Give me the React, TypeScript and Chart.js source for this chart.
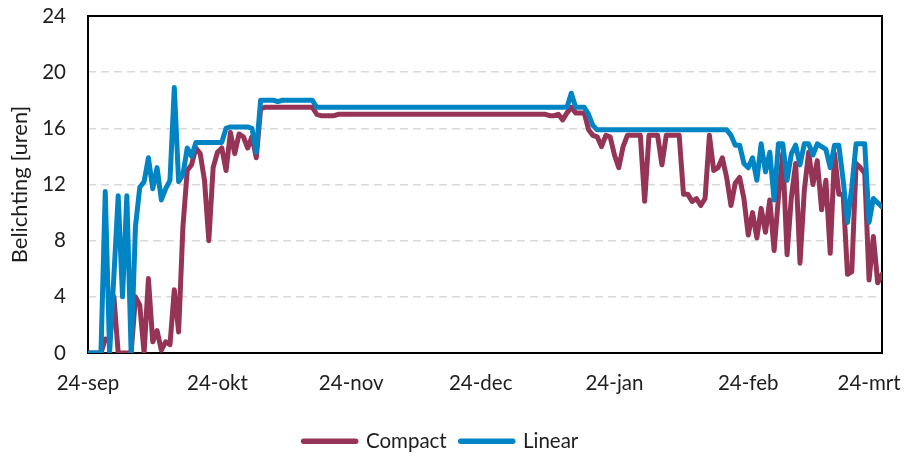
import React, { useEffect, useRef } from 'react';
import { Chart, registerables } from 'chart.js';

Chart.register(...registerables);

// x positions are day offsets from 24-sep
const tickDays = [0, 30, 61, 91, 122, 153, 181];
const tickLabels = ['24-sep', '24-okt', '24-nov', '24-dec', '24-jan', '24-feb', '24-mrt'];
const yTicks = [0, 4, 8, 12, 16, 20, 24];
const seriesNames = ['Compact', 'Linear'];

const compact = [
  0, 0, 0, 0, 1.0, 0.8, 4.0, 0, 0, 0,
  0, 4.0, 3.4, 0, 5.3, 0.8, 1.6, 0.2, 0.8, 0.6,
  4.5, 1.5, 9.0, 13.0, 13.4, 14.6, 14.2, 12.3, 8.0, 13.2,
  14.3, 14.6, 13.0, 15.7, 14.2, 15.6, 15.4, 14.6, 15.4, 13.9,
  17.4, 17.5, 17.5, 17.5, 17.5, 17.5, 17.5, 17.5, 17.5, 17.5,
  17.5, 17.5, 17.5, 17.0, 16.9, 16.9, 16.9, 16.9, 17.0, 17.0,
  17.0, 17.0, 17.0, 17.0, 17.0, 17.0, 17.0, 17.0, 17.0, 17.0,
  17.0, 17.0, 17.0, 17.0, 17.0, 17.0, 17.0, 17.0, 17.0, 17.0,
  17.0, 17.0, 17.0, 17.0, 17.0, 17.0, 17.0, 17.0, 17.0, 17.0,
  17.0, 17.0, 17.0, 17.0, 17.0, 17.0, 17.0, 17.0, 17.0, 17.0,
  17.0, 17.0, 17.0, 17.0, 17.0, 17.0, 17.0, 16.9, 16.9, 17.0,
  16.6, 17.1, 17.5, 17.1, 17.1, 17.1, 15.9, 15.5, 15.4, 14.7,
  15.5, 15.4, 14.1, 13.2, 14.7, 15.5, 15.5, 15.5, 15.5, 10.8,
  15.5, 15.5, 15.5, 13.4, 15.5, 15.5, 15.5, 15.5, 11.3, 11.3,
  10.8, 11.0, 10.5, 11.0, 15.5, 13.0, 13.2, 13.9, 12.5, 10.5,
  12.1, 12.5, 11.0, 8.4, 10.0, 8.2, 10.3, 8.6, 10.9, 7.3,
  11.1, 14.2, 7.0, 11.1, 13.5, 6.4, 11.6, 14.3, 12.0, 13.7,
  10.2, 12.3, 7.1, 14.2, 11.3, 11.3, 5.6, 5.8, 13.5, 13.2,
  12.8, 5.2, 8.3, 5.0, 5.6,
];

const linear = [
  0, 0, 0, 0, 11.5, 0, 5.5, 11.2, 4.0, 11.2,
  0, 9.0, 11.8, 12.2, 13.9, 11.7, 13.2, 10.9, 11.7, 12.3,
  18.9, 12.2, 12.7, 14.6, 14.0, 15.0, 15.0, 15.0, 15.0, 15.0,
  15.0, 15.0, 16.0, 16.1, 16.1, 16.1, 16.1, 16.1, 16.0, 14.3,
  18.0, 18.0, 18.0, 18.0, 17.9, 18.0, 18.0, 18.0, 18.0, 18.0,
  18.0, 18.0, 18.0, 17.5, 17.5, 17.5, 17.5, 17.5, 17.5, 17.5,
  17.5, 17.5, 17.5, 17.5, 17.5, 17.5, 17.5, 17.5, 17.5, 17.5,
  17.5, 17.5, 17.5, 17.5, 17.5, 17.5, 17.5, 17.5, 17.5, 17.5,
  17.5, 17.5, 17.5, 17.5, 17.5, 17.5, 17.5, 17.5, 17.5, 17.5,
  17.5, 17.5, 17.5, 17.5, 17.5, 17.5, 17.5, 17.5, 17.5, 17.5,
  17.5, 17.5, 17.5, 17.5, 17.5, 17.5, 17.5, 17.5, 17.5, 17.5,
  17.5, 17.5, 18.5, 17.5, 17.5, 17.5, 17.0, 16.2, 15.9, 15.9,
  15.9, 15.9, 15.9, 15.9, 15.9, 15.9, 15.9, 15.9, 15.9, 15.9,
  15.9, 15.9, 15.9, 15.9, 15.9, 15.9, 15.9, 15.9, 15.9, 15.9,
  15.9, 15.9, 15.9, 15.9, 15.9, 15.9, 15.9, 15.9, 15.9, 15.5,
  14.8, 14.8, 13.5, 13.2, 13.9, 12.3, 14.9, 12.9, 14.3, 10.9,
  14.9, 14.9, 12.3, 14.2, 14.8, 13.4, 14.9, 14.9, 14.1, 14.9,
  14.7, 14.5, 13.2, 14.8, 14.8, 12.3, 9.3, 11.8, 14.9, 14.9,
  14.9, 9.3, 11.0, 10.7, 10.4,
];

const COLORS = ['#953457', '#0084C4'];
const TEXT = '#1e1e1e';
const FONT = 'Lato, "Open Sans", sans-serif';
const TICK_SIZE = 20.5;
const TITLE_SIZE = 22;

const plotBorder = {
  id: 'plotBorder',
  beforeDatasetsDraw(chart: any) {
    const { ctx, chartArea } = chart;
    const { left, top, right, bottom } = chartArea;
    ctx.save();
    ctx.strokeStyle = '#000000';
    ctx.lineWidth = 2;
    ctx.strokeRect(left, top, right - left, bottom - top);
    ctx.restore();
  },
};

export default function App() {
  const canvasRef = useRef<HTMLCanvasElement | null>(null);

  useEffect(() => {
    document.body.style.margin = '0';
    let chart: Chart | null = null;
    let cancelled = false;

    const build = () => {
      if (cancelled || !canvasRef.current) return;
      const series = [compact, linear];
      chart = new Chart(canvasRef.current, {
        type: 'line',
        data: {
          datasets: series.map((vals, k) => ({
            label: seriesNames[k],
            data: vals.map((v, i) => ({ x: i, y: v })),
            borderColor: COLORS[k],
            backgroundColor: COLORS[k],
            borderWidth: 5,
            borderJoinStyle: 'round',
            borderCapStyle: 'round',
            pointRadius: 0,
            pointHoverRadius: 0,
            pointBorderWidth: 5.5,
            pointBorderColor: COLORS[k],
            tension: 0,
            order: k === 0 ? 1 : 0,
          })),
        },
        options: {
          animation: false,
          responsive: false,
          devicePixelRatio: 1,
          layout: { padding: { left: 0, right: 22, top: 16, bottom: 0 } },
          font: { family: FONT },
          plugins: {
            tooltip: { enabled: false },
            legend: {
              position: 'bottom',
              maxHeight: 40,
              labels: {
                usePointStyle: true,
                pointStyle: 'line',
                pointStyleWidth: 52,
                padding: 14,
                color: TEXT,
                font: { family: FONT, size: TICK_SIZE },
                sort: (a: any, b: any) => a.datasetIndex - b.datasetIndex,
                generateLabels: (ch: any) =>
                  (Chart as any).defaults.plugins.legend.labels
                    .generateLabels(ch)
                    .map((l: any) => ({ ...l, lineCap: 'round' })),
              },
            },
          },
          scales: {
            x: {
              type: 'linear',
              min: 0,
              max: compact.length - 1,
              afterBuildTicks: (s: any) => {
                s.ticks = tickDays.map((v) => ({ value: v }));
              },
              afterFit: (s: any) => {
                s.height = 64;
                s.paddingLeft = 0;
                s.paddingRight = 0;
              },
              ticks: {
                autoSkip: false,
                maxRotation: 0,
                padding: 18,
                color: TEXT,
                font: { family: FONT, size: TICK_SIZE },
                callback: (_v: any, i: number) => tickLabels[i],
              },
              grid: { display: false, drawTicks: false },
              border: { display: false },
            },
            y: {
              type: 'linear',
              min: 0,
              max: 24,
              afterBuildTicks: (s: any) => {
                s.ticks = yTicks.map((v) => ({ value: v }));
              },
              afterFit: (s: any) => {
                s.width = 88;
                s.paddingTop = 0;
                s.paddingBottom = 0;
              },
              ticks: {
                padding: 22,
                color: TEXT,
                font: { family: FONT, size: TICK_SIZE },
              },
              grid: {
                drawTicks: false,
                lineWidth: 1.5,
                color: (c: any) =>
                  c.tick && (c.tick.value === 0 || c.tick.value === 24) ? 'rgba(0,0,0,0)' : '#D9D9D9',
              },
              border: { display: false, dash: [8, 5] },
              title: {
                display: true,
                text: 'Belichting [uren]',
                color: TEXT,
                font: { family: FONT, size: TITLE_SIZE },
                padding: { top: 7, bottom: 0 },
              },
            },
          },
        },
        plugins: [plotBorder],
      } as any);
    };

    const fontsApi = (document as any).fonts;
    if (fontsApi && fontsApi.load) {
      Promise.all([fontsApi.load(`${TICK_SIZE}px Lato`), fontsApi.load(`${TITLE_SIZE}px Lato`)])
        .catch(() => null)
        .then(build);
    } else {
      build();
    }

    return () => {
      cancelled = true;
      if (chart) chart.destroy();
    };
  }, []);

  return (
    <div style={{ width: 904, height: 457, position: 'relative' }}>
      <canvas ref={canvasRef} width={904} height={457} style={{ display: 'block' }} />
    </div>
  );
}
